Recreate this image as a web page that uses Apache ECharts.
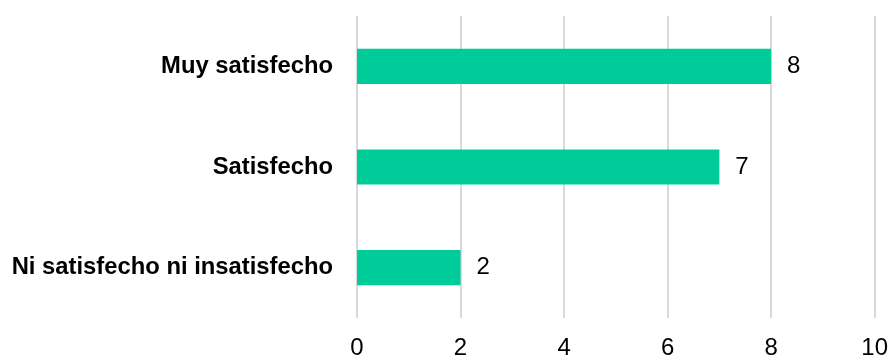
<!DOCTYPE html>
<html>
<head>
<meta charset="utf-8">
<style>
  html, body { margin: 0; padding: 0; background: #ffffff; }
  #chart { width: 891px; height: 360px; }
</style>
<script src="https://cdn.jsdelivr.net/npm/echarts@6/dist/echarts.min.js"></script>
</head>
<body>
<div id="chart"></div>
<script>
// Satisfaction levels (listed bottom to top on the category axis)
const categories = ['Ni satisfecho ni insatisfecho', 'Satisfecho', 'Muy satisfecho'];
const counts = [2, 7, 8];
const xTicks = [0, 2, 4, 6, 8, 10];

const chart = echarts.init(document.getElementById('chart'), null, { renderer: 'canvas' });

const font = 'Liberation Sans, Arial, sans-serif';

chart.setOption({
  animation: false,
  backgroundColor: '#ffffff',
  grid: { left: 357, right: 16, top: 16, bottom: 38, containLabel: false },
  xAxis: {
    type: 'value',
    min: xTicks[0],
    max: xTicks[xTicks.length - 1],
    interval: 2,
    axisLine: { show: false },
    axisTick: { show: false },
    splitLine: { show: true, lineStyle: { color: '#d9d9d9', width: 2 } },
    axisLabel: {
      margin: 18,
      color: '#000000',
      fontFamily: font,
      fontSize: 24
    }
  },
  yAxis: {
    type: 'category',
    data: categories,
    axisLine: { show: false },
    axisTick: { show: false },
    splitLine: { show: false },
    axisLabel: {
      margin: 24,
      color: '#000000',
      fontWeight: 'bold',
      fontFamily: font,
      fontSize: 23.8,
      padding: [3, 0, 0, 0]
    }
  },
  series: [{
    type: 'bar',
    data: counts,
    barWidth: '35%',
    itemStyle: { color: '#00cc99' },
    label: {
      show: true,
      position: 'right',
      distance: 16,
      color: '#000000',
      fontFamily: font,
      fontSize: 24,
      padding: [3, 0, 0, 0]
    }
  }]
});
</script>
</body>
</html>
